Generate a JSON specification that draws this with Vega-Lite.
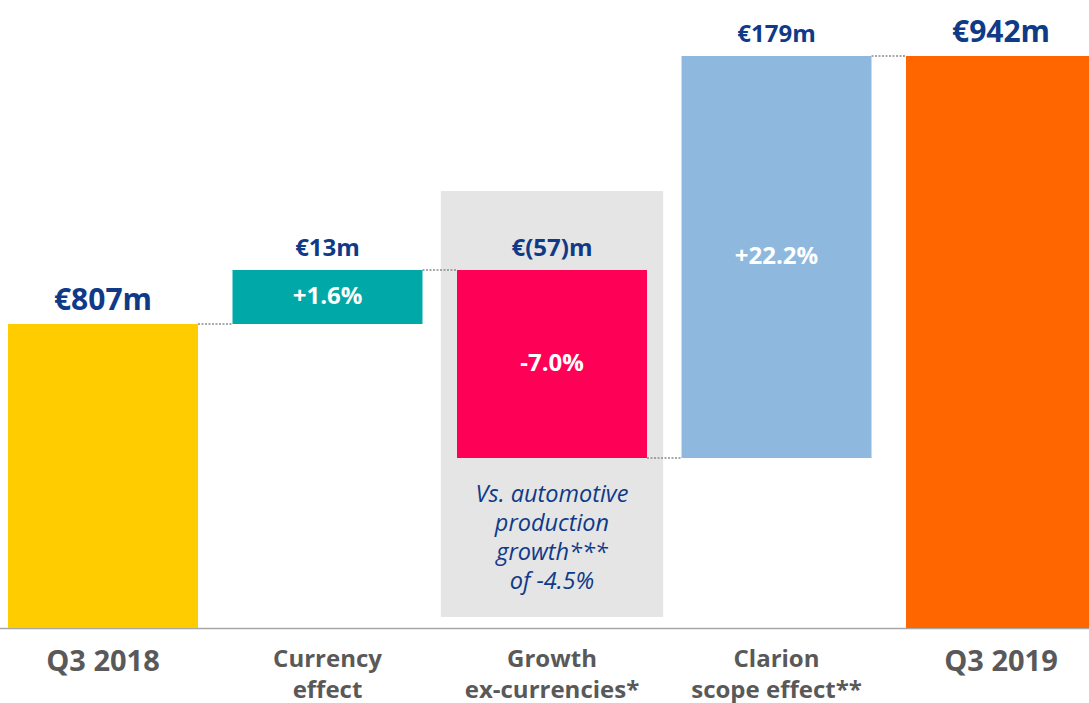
{
  "$schema": "https://vega.github.io/schema/vega-lite/v6.json",
  "width": 1089,
  "height": 628,
  "autosize": "none",
  "padding": {"left": 0, "top": 0, "right": 0, "bottom": 75},
  "background": "white",
  "config": {"view": {"stroke": null}, "font": "Open Sans"},
  "data": {
    "values": [
      {"category": "Q3 2018", "kind": "total", "start": 0, "end": 807, "amount": "€807m", "pct": null, "next": "Currency effect"},
      {"category": "Currency effect", "kind": "delta", "start": 807, "end": 820, "amount": "€13m", "pct": "+1.6%", "next": "Growth ex-currencies*"},
      {"category": "Growth ex-currencies*", "kind": "delta", "start": 820, "end": 763, "amount": "€(57)m", "pct": "-7.0%", "next": "Clarion scope effect**"},
      {"category": "Clarion scope effect**", "kind": "delta", "start": 763, "end": 942, "amount": "€179m", "pct": "+22.2%", "next": "Q3 2019"},
      {"category": "Q3 2019", "kind": "total", "start": 0, "end": 942, "amount": "€942m", "pct": null, "next": null}
    ]
  },
  "encoding": {
    "x": {
      "field": "category",
      "type": "nominal",
      "sort": null,
      "scale": {
        "domain": ["Q3 2018", "Currency effect", "Growth ex-currencies*", "Clarion scope effect**", "Q3 2019"],
        "range": [-9.25, 1113.25],
        "paddingInner": 0.1537,
        "paddingOuter": 0.0768
      },
      "axis": {
        "title": null,
        "orient": "bottom",
        "ticks": false,
        "domain": true,
        "domainColor": "#A6A6A6",
        "domainWidth": 1.5,
        "labelAngle": 0,
        "labelColor": "#595959",
        "labelFont": "Open Sans",
        "labelFontWeight": "bold",
        "labelFontSize": {"condition": {"test": "indexof(datum.value, 'Q3') == 0", "value": 29}, "value": 24},
        "labelBaseline": "top",
        "labelPadding": 19,
        "labelLineHeight": 31,
        "labelLimit": 400,
        "labelOverlap": false,
        "labelExpr": "datum.value == 'Currency effect' ? ['Currency', 'effect'] : datum.value == 'Growth ex-currencies*' ? ['Growth', 'ex-currencies*'] : datum.value == 'Clarion scope effect**' ? ['Clarion', 'scope effect**'] : datum.value"
      }
    }
  },
  "layer": [
    {
      "transform": [{"filter": "datum.category == 'Growth ex-currencies*'"}],
      "mark": {"type": "bar", "width": {"band": 1.17}, "color": "#E5E5E5"},
      "encoding": {
        "y": {"datum": 865, "type": "quantitative", "scale": {"domain": [0, 763, 807, 820, 942], "range": [628, 458, 324, 270, 56], "nice": false, "zero": false}, "axis": null},
        "y2": {"datum": 49}
      }
    },
    {
      "transform": [{"filter": "datum.next != null"}],
      "mark": {"type": "rule", "color": "#8C8C8C", "strokeWidth": 1.5, "strokeDash": [2, 1.5]},
      "encoding": {
        "x": {"field": "category", "type": "nominal", "sort": null, "bandPosition": 1},
        "x2": {"field": "next", "bandPosition": 0},
        "y": {"field": "end", "type": "quantitative"}
      }
    },
    {
      "mark": {"type": "bar"},
      "encoding": {
        "y": {"field": "start", "type": "quantitative"},
        "y2": {"field": "end"},
        "color": {
          "field": "category",
          "type": "nominal",
          "scale": {
            "domain": ["Q3 2018", "Currency effect", "Growth ex-currencies*", "Clarion scope effect**", "Q3 2019"],
            "range": ["#FFCC00", "#00A9A7", "#FF0057", "#8FB8DF", "#FF6600"]
          },
          "legend": null
        }
      }
    },
    {
      "mark": {
        "type": "text",
        "baseline": "alphabetic",
        "dy": -14,
        "color": "#0F3A88",
        "fontWeight": "bold",
        "font": "Open Sans",
        "y": {"expr": "scale('y', max(datum.start, datum.end))"}
      },
      "encoding": {
        "text": {"field": "amount"},
        "size": {"condition": {"test": "datum.kind == 'total'", "value": 30}, "value": 24}
      }
    },
    {
      "transform": [{"filter": "datum.pct != null"}],
      "mark": {
        "type": "text",
        "baseline": "middle",
        "color": "white",
        "fontWeight": "bold",
        "font": "Open Sans",
        "fontSize": 24,
        "y": {"expr": "(scale('y', datum.start) + scale('y', datum.end)) / 2"}
      },
      "encoding": {"text": {"field": "pct"}}
    },
    {
      "transform": [{"filter": "datum.category == 'Growth ex-currencies*'"}],
      "mark": {
        "type": "text",
        "baseline": "alphabetic",
        "color": "#0F3A88",
        "fontStyle": "italic",
        "font": "Open Sans",
        "fontSize": 23.5,
        "lineHeight": 29,
        "dy": 44,
        "text": ["Vs. automotive", "production", "growth***", "of -4.5%"],
        "y": {"expr": "scale('y', min(datum.start, datum.end))"}
      }
    }
  ]
}
